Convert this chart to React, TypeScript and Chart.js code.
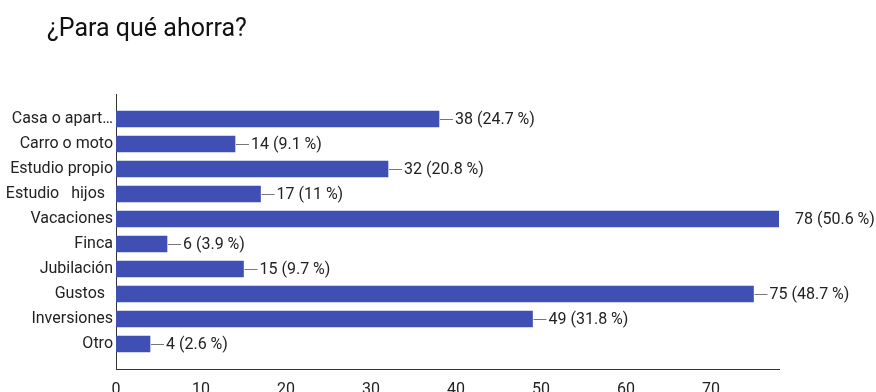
import React, { useEffect, useRef } from "react";
import { Chart, registerables } from "chart.js";

Chart.register(...registerables);

const TITLE = "¿Para qué ahorra?";
const categories = [
  "Casa o apart…",
  "Carro o moto",
  "Estudio propio",
  "Estudio   hijos  ",
  "Vacaciones",
  "Finca",
  "Jubilación",
  "Gustos  ",
  "Inversiones",
  "Otro",
];
const values = [38, 14, 32, 17, 78, 6, 15, 75, 49, 4];
const percents = ["24.7", "9.1", "20.8", "11", "50.6", "3.9", "9.7", "48.7", "31.8", "2.6"];
const xMax = 78;
const xStep = 10;

const FONT = "Roboto, 'Noto Sans', Arial, sans-serif";
const TEXT = "#222222";
const AXIS = "#333333";
const BAR = "#3f4fb4";

const overlayPlugin = {
  id: "overlay",
  afterDatasetsDraw(chart: any) {
    const ctx = chart.ctx;
    const meta = chart.getDatasetMeta(0);
    ctx.save();
    ctx.font = `16px ${FONT}`;
    ctx.textBaseline = "middle";
    ctx.textAlign = "left";
    meta.data.forEach((el: any, i: number) => {
      const idx = i - 1;
      if (idx < 0 || idx >= values.length) return;
      const v = values[idx];
      const x = el.x;
      const y = el.y;
      if (v < xMax) {
        ctx.strokeStyle = "#777777";
        ctx.lineWidth = 1;
        ctx.beginPath();
        ctx.moveTo(x + 1, Math.round(y) + 0.5);
        ctx.lineTo(x + 14, Math.round(y) + 0.5);
        ctx.stroke();
      }
      ctx.fillStyle = TEXT;
      ctx.fillText(`${v} (${percents[idx]} %)`, x + 16, y + 0.5);
    });
    ctx.restore();
  },
  afterDraw(chart: any) {
    const ctx = chart.ctx;
    ctx.save();
    ctx.font = `25px ${FONT}`;
    ctx.fillStyle = "#111111";
    ctx.textBaseline = "alphabetic";
    ctx.textAlign = "left";
    ctx.fillText(TITLE, 47, 36);
    ctx.restore();
  },
};

export default function App() {
  const ref = useRef<HTMLCanvasElement | null>(null);
  useEffect(() => {
    if (!ref.current) return;
    const labels = ["", ...categories, ""];
    const data = [null, ...values, null];
    const chart = new Chart(ref.current, {
      type: "bar",
      data: {
        labels,
        datasets: [
          {
            data,
            backgroundColor: BAR,
            borderWidth: 0,
            barThickness: 16,
          },
        ],
      },
      options: {
        indexAxis: "y",
        animation: false,
        responsive: false,
        devicePixelRatio: 1,
        layout: { padding: { top: 94, right: 97, left: 0, bottom: 0 } },
        plugins: {
          legend: { display: false },
          tooltip: { enabled: false },
          title: { display: false },
        },
        scales: {
          y: {
            type: "category",
            offset: false,
            grid: { display: false, drawTicks: false },
            border: { display: true, color: AXIS, width: 1 },
            ticks: {
              autoSkip: false,
              padding: 3,
              color: TEXT,
              font: { family: FONT, size: 16 },
            },
            afterFit: (scale: any) => {
              scale.width = 116;
            },
          },
          x: {
            type: "linear",
            min: 0,
            max: xMax,
            grid: { display: false, drawTicks: false },
            border: { display: true, color: AXIS, width: 1 },
            ticks: {
              stepSize: xStep,
              includeBounds: false,
              padding: 11,
              color: TEXT,
              maxRotation: 0,
              font: { family: FONT, size: 16 },
            },
            afterFit: (scale: any) => {
              scale.height = 23;
            },
          },
        },
      },
      plugins: [overlayPlugin],
    });
    return () => chart.destroy();
  }, []);
  return (
    <div style={{ position: "absolute", left: 0, top: 0, width: 876, height: 392, background: "#fff" }}>
      <canvas ref={ref} width={876} height={392} />
    </div>
  );
}
